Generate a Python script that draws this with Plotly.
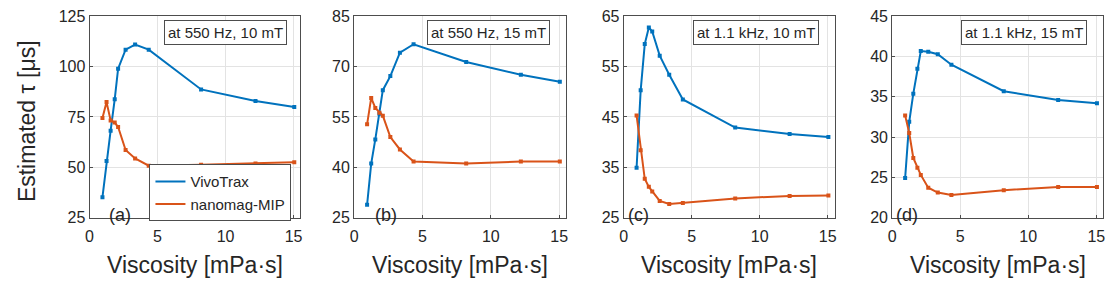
import plotly.graph_objects as go

# ---- data ----
viscosity = [0.95, 1.25, 1.55, 1.85, 2.1, 2.65, 3.35, 4.35, 8.2, 12.2, 15.05]

vivo_a = [35.1, 53.1, 68.2, 83.8, 99.0, 108.5, 111.0, 108.5, 88.7, 83.0, 80.0]
mip_a = [74.5, 82.4, 73.3, 72.2, 70.0, 58.6, 54.4, 50.8, 51.3, 51.9, 52.5]

vivo_b = [28.8, 41.1, 48.3, 56.0, 63.0, 67.2, 74.2, 76.7, 71.4, 67.6, 65.5]
mip_b = [52.8, 60.7, 57.7, 56.3, 55.4, 49.0, 45.3, 41.7, 41.1, 41.7, 41.7]

vivo_c = [34.9, 50.3, 59.5, 62.8, 62.0, 57.2, 53.4, 48.5, 42.9, 41.6, 41.0]
mip_c = [45.3, 38.4, 32.7, 31.1, 30.2, 28.3, 27.7, 27.9, 28.8, 29.3, 29.4]

vivo_d = [24.9, 31.9, 35.4, 38.5, 40.7, 40.6, 40.3, 39.0, 35.7, 34.6, 34.2]
mip_d = [32.7, 30.5, 27.4, 26.2, 25.3, 23.7, 23.1, 22.8, 23.4, 23.8, 23.8]

panel_labels = ["(a)", "(b)", "(c)", "(d)"]
conditions = ["at 550 Hz, 10 mT", "at 550 Hz, 15 mT", "at 1.1 kHz, 10 mT", "at 1.1 kHz, 15 mT"]
y_ranges = [[25, 125], [25, 85], [25, 65], [20, 45]]
y_ticks = [[25, 50, 75, 100, 125], [25, 40, 55, 70, 85], [25, 35, 45, 55, 65], [20, 25, 30, 35, 40, 45]]
x_ticks = [0, 5, 10, 15]
series_names = ["VivoTrax", "nanomag-MIP"]

vivo_all = [vivo_a, vivo_b, vivo_c, vivo_d]
mip_all = [mip_a, mip_b, mip_c, mip_d]

# ---- styling / layout ----
W, H = 1119, 281
BLUE = "#0072BD"
ORANGE = "#D95319"
TXT = "#262626"
AX = "#4d4d4d"
GRID = "#e3e3e3"
FONT = "Liberation Sans, Arial, Helvetica, sans-serif"

px_left = [86, 352, 623, 893]
px_right = [298, 565, 835, 1105]
px_top, px_bot = 9, 223
lab_off = [31, 32, 15, 15]
box_right = [285, 549, 819, 1089]

fig = go.Figure()
layout = dict(
    width=W, height=H,
    margin=dict(l=0, r=0, t=0, b=0),
    paper_bgcolor="white", plot_bgcolor="white",
    font=dict(family=FONT, color=TXT, size=16),
    showlegend=True,
    legend=dict(
        x=289 / W, xanchor="right", y=1 - 227 / H, yanchor="bottom",
        bgcolor="white", bordercolor=AX, borderwidth=1,
        font=dict(size=15, family=FONT, color=TXT),
        tracegroupgap=0, itemwidth=30,
    ),
)
annotations = []

for i in range(4):
    s = "" if i == 0 else str(i + 1)
    xa, ya = "x" + s, "y" + s
    for name, ys, col in [(series_names[0], vivo_all[i], BLUE), (series_names[1], mip_all[i], ORANGE)]:
        fig.add_trace(go.Scatter(
            x=viscosity, y=ys, mode="lines+markers", name=name,
            line=dict(color=col, width=2),
            marker=dict(color=col, size=4, symbol="square"),
            xaxis=xa, yaxis=ya, showlegend=False,
        ))
    common = dict(
        showline=True, linecolor=AX, linewidth=1, mirror=True,
        ticks="inside", ticklen=3, tickcolor=AX,
        showgrid=True, gridcolor=GRID, gridwidth=1, zeroline=False,
        tickfont=dict(size=16, family=FONT, color=TXT),
    )
    layout["xaxis" + s] = dict(
        domain=[px_left[i] / W, px_right[i] / W], range=[0, 15.5],
        tickvals=x_ticks, anchor=ya, ticklabelstandoff=4, **common,
    )
    layout["yaxis" + s] = dict(
        domain=[1 - px_bot / H, 1 - px_top / H], range=y_ranges[i],
        tickvals=y_ticks[i], anchor=xa, **common,
    )
    annotations.append(dict(
        text="Viscosity [mPa·s]", xref="paper", yref="paper",
        x=(px_left[i] + px_right[i]) / 2 / W, y=1 - 274 / H,
        xanchor="center", yanchor="middle", showarrow=False,
        font=dict(size=23, family=FONT, color=TXT),
    ))
    annotations.append(dict(
        text=conditions[i], xref="paper", yref="paper",
        x=box_right[i] / W, y=1 - 13 / H,
        xanchor="right", yanchor="top", showarrow=False,
        borderpad=3, bordercolor=AX, borderwidth=1, bgcolor="white",
        font=dict(size=15, family=FONT, color=TXT),
    ))
    annotations.append(dict(
        text=panel_labels[i], xref="paper", yref="paper",
        x=(px_left[i] + lab_off[i]) / W, y=1 - 220 / H,
        xanchor="center", yanchor="middle", showarrow=False,
        font=dict(size=18, family=FONT, color=TXT),
    ))

# legend entries (lines only, as in the reference legend)
for name, col in [(series_names[0], BLUE), (series_names[1], ORANGE)]:
    fig.add_trace(go.Scatter(
        x=[None], y=[None], mode="lines", name=name,
        line=dict(color=col, width=2), showlegend=True,
    ))

annotations.append(dict(
    text="Estimated τ [μs]", xref="paper", yref="paper",
    x=22.5 / W, y=1 - 120 / H, textangle=-90,
    xanchor="center", yanchor="middle", showarrow=False,
    font=dict(size=23, family=FONT, color=TXT),
))
layout["annotations"] = annotations
fig.update_layout(**layout)
fig.write_html("out.html")
